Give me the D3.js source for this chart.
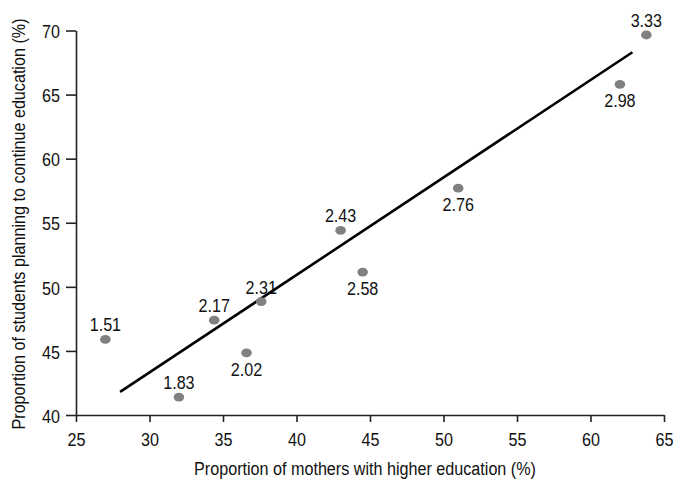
<!DOCTYPE html>
<html lang="en">
<head>
    <meta charset="utf-8" />
    <title>Mothers' education vs students planning to continue</title>
    <script src="https://d3js.org/d3.v7.min.js"></script>
    <style>
        body { margin: 0; background: #fff; }
        text { font-family: "Liberation Sans", Arial, sans-serif; fill: #111; }
    </style>
</head>
<body>
    <script>
        // data
        const mothersPct = [27.0, 32.0, 34.4, 36.6, 37.6, 43.0, 44.5, 51.0, 62.0, 63.8];
        const studentsPct = [45.9, 41.4, 47.4, 44.85, 48.85, 54.4, 51.15, 57.7, 65.8, 69.65];
        const pointLabels = ["1.51", "1.83", "2.17", "2.02", "2.31", "2.43", "2.58", "2.76", "2.98", "3.33"];
        const labelSide = ["above", "above", "above", "below", "above", "above", "below", "below", "below", "above"];
        // fitted line end points
        const fitX = [28.0, 62.85];
        const fitY = [41.8, 68.3];
        const xTicks = [25, 30, 35, 40, 45, 50, 55, 60, 65];
        const yTicks = [40, 45, 50, 55, 60, 65, 70];

        const width = 677, height = 480;
        const svg = d3.select("body").append("svg")
            .attr("width", width)
            .attr("height", height);

        const x = d3.scaleLinear().domain([25, 65]).range([76, 664]);
        const y = d3.scaleLinear().domain([40, 70]).range([415, 30.5]);

        const fs = "19px";
        const narrow = 0.85; // the reference uses a narrow face

        // squeeze text horizontally, keeping its anchor where it was
        function squeeze(sel) {
            sel.each(function () {
                const t = d3.select(this);
                const tx = +t.attr("x") || 0;
                const prev = t.attr("transform") || "";
                t.attr("x", tx / narrow)
                 .attr("transform", (prev + " scale(" + narrow + ",1)").trim());
            });
        }

        // x axis
        const xAxis = svg.append("g")
            .attr("transform", "translate(0,415)")
            .call(d3.axisBottom(x).tickValues(xTicks).tickSize(7).tickSizeOuter(0).tickPadding(11));
        xAxis.selectAll("text").style("font-size", fs).attr("dy", "0.68em").call(squeeze);

        // y axis
        const yAxis = svg.append("g")
            .attr("transform", "translate(76,0)")
            .call(d3.axisLeft(y).tickValues(yTicks).tickSize(10).tickSizeOuter(0).tickPadding(6));
        yAxis.selectAll("text").style("font-size", fs).attr("dy", "0.38em").call(squeeze);

        svg.selectAll(".domain, .tick line")
            .attr("stroke", "#222")
            .attr("stroke-width", 1.6);

        // axis titles
        svg.append("text")
            .attr("x", 365)
            .attr("y", 475)
            .attr("text-anchor", "middle")
            .style("font-size", fs)
            .text("Proportion of mothers with higher education (%)")
            .call(squeeze);

        svg.append("text")
            .attr("transform", "translate(25,224) rotate(-90)")
            .attr("text-anchor", "middle")
            .style("font-size", fs)
            .text("Proportion of students planning to continue education (%)")
            .call(squeeze);

        // regression line
        svg.append("line")
            .attr("x1", x(fitX[0])).attr("y1", y(fitY[0]))
            .attr("x2", x(fitX[1])).attr("y2", y(fitY[1]))
            .attr("stroke", "#000")
            .attr("stroke-width", 2.6);

        // points
        svg.selectAll(".dot")
            .data(mothersPct)
            .enter()
            .append("ellipse")
            .attr("class", "dot")
            .attr("cx", d => x(d))
            .attr("cy", (d, i) => y(studentsPct[i]))
            .attr("rx", 5.3)
            .attr("ry", 4.4)
            .attr("fill", "#808080");

        // labels
        svg.selectAll(".lbl")
            .data(pointLabels)
            .enter()
            .append("text")
            .attr("class", "lbl")
            .attr("x", (d, i) => x(mothersPct[i]))
            .attr("y", (d, i) => y(studentsPct[i]) + (labelSide[i] === "above" ? -8 : 23))
            .attr("text-anchor", "middle")
            .style("font-size", fs)
            .text(d => d)
            .call(squeeze);
    </script>
</body>
</html>
